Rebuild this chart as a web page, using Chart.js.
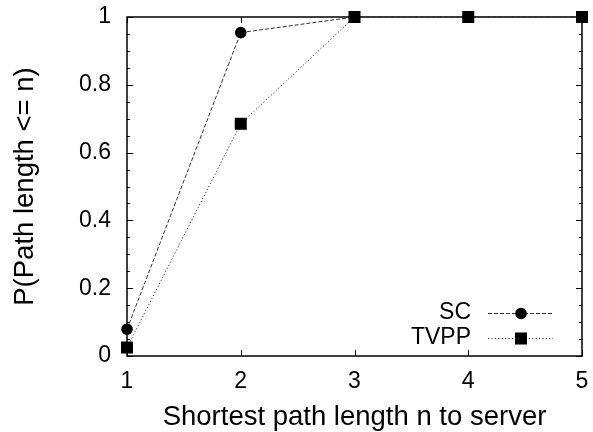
<!DOCTYPE html>
<html>
<head>
<meta charset="utf-8">
<style>
  html, body { margin: 0; padding: 0; background: #fff; }
  canvas { display: block; }
</style>
<script src="https://cdn.jsdelivr.net/npm/chart.js@4/dist/chart.umd.min.js"></script>
</head>
<body>
<canvas id="chart" width="593" height="432"></canvas>
<script>
// Cumulative share of peers whose shortest path to the server is <= n
const pathLengths = [1, 2, 3, 4, 5];
const scValues = [0.079, 0.954, 1, 1, 1];
const tvppValues = [0.025, 0.685, 1, 1, 1];
const xTickValues = [1, 2, 3, 4, 5];
const yTickValues = [0, 0.2, 0.4, 0.6, 0.8, 1];
const yTickLabels = ['0', '0.2', '0.4', '0.6', '0.8', '1'];
const yMinorStep = 0.05;
const seriesNames = ['SC', 'TVPP'];

const FONT = '"Liberation Sans", Arial, Helvetica, sans-serif';

const toPoints = (vals) => pathLengths.map((x, i) => ({ x: x, y: vals[i] }));

// Keep the plot box fixed: no extra room reserved for overhanging labels
const noLabelPadding = (s) => {
  s.paddingTop = 0; s.paddingBottom = 0; s.paddingLeft = 0; s.paddingRight = 0;
};

// Closed frame with inward ticks on all four sides
const framePlugin = {
  id: 'frame',
  beforeDatasetsDraw(chart) {
    const { ctx, chartArea: a, scales: { x, y } } = chart;
    ctx.save();
    ctx.strokeStyle = '#000';
    ctx.lineWidth = 1;
    const steps = Math.round((y.max - y.min) / yMinorStep);
    for (let i = 0; i <= steps; i++) {
      const v = y.min + i * yMinorStep;
      const py = Math.round(y.getPixelForValue(v)) + 0.5;
      const major = yTickValues.some(t => Math.abs(t - v) < 1e-9);
      const len = major ? 6 : 3;
      ctx.beginPath();
      ctx.moveTo(a.left, py); ctx.lineTo(a.left + len, py);
      ctx.moveTo(a.right, py); ctx.lineTo(a.right - len, py);
      ctx.stroke();
    }
    xTickValues.forEach(v => {
      const px = Math.round(x.getPixelForValue(v)) + 0.5;
      ctx.beginPath();
      ctx.moveTo(px, a.bottom); ctx.lineTo(px, a.bottom - 6);
      ctx.moveTo(px, a.top); ctx.lineTo(px, a.top + 6);
      ctx.stroke();
    });
    ctx.lineWidth = 1.5;
    ctx.strokeRect(a.left, a.top, a.right - a.left, a.bottom - a.top);
    ctx.restore();
  }
};

// Key in the lower right: label, then a line sample with its marker
const keyPlugin = {
  id: 'key',
  afterDatasetsDraw(chart) {
    const { ctx } = chart;
    const rows = [313, 338];
    ctx.save();
    chart.data.datasets.forEach((ds, i) => {
      const yy = rows[i];
      ctx.font = '23px ' + FONT;
      ctx.fillStyle = '#000';
      ctx.textAlign = 'right';
      ctx.textBaseline = 'middle';
      ctx.fillText(ds.label, 471, yy);
      ctx.strokeStyle = ds.borderColor;
      ctx.lineWidth = ds.borderWidth;
      ctx.setLineDash(ds.borderDash);
      ctx.beginPath();
      ctx.moveTo(488, yy + 0.5); ctx.lineTo(553, yy + 0.5);
      ctx.stroke();
      ctx.setLineDash([]);
      ctx.fillStyle = ds.pointBackgroundColor;
      ctx.strokeStyle = ds.pointBorderColor;
      Chart.helpers.drawPoint(ctx, {
        pointStyle: ds.pointStyle, radius: ds.pointRadius, rotation: 0, borderWidth: 0
      }, 521, yy + 0.5);
    });
    ctx.restore();
  }
};

new Chart(document.getElementById('chart'), {
  type: 'scatter',
  data: {
    datasets: [
      {
        label: seriesNames[0],
        data: toPoints(scValues),
        showLine: true,
        clip: false,
        borderColor: '#333',
        borderWidth: 1,
        borderDash: [4, 2],
        pointStyle: 'circle',
        pointRadius: 5.8,
        pointBackgroundColor: '#000',
        pointBorderColor: '#000',
        pointBorderWidth: 0,
        order: 1
      },
      {
        label: seriesNames[1],
        data: toPoints(tvppValues),
        showLine: true,
        clip: false,
        borderColor: '#333',
        borderWidth: 1,
        borderDash: [1.2, 2.2],
        pointStyle: 'rect',
        pointRadius: 8.5,
        pointBackgroundColor: '#000',
        pointBorderColor: '#000',
        pointBorderWidth: 0,
        order: 0
      }
    ]
  },
  options: {
    responsive: false,
    animation: false,
    devicePixelRatio: 1,
    layout: { padding: { top: 17, right: 11, left: 0, bottom: 0 } },
    plugins: { legend: { display: false }, tooltip: { enabled: false } },
    scales: {
      x: {
        type: 'linear',
        min: 1, max: 5,
        afterBuildTicks: (s) => { s.ticks = xTickValues.map(v => ({ value: v })); },
        afterFit: (s) => { s.height = 76; noLabelPadding(s); },
        grid: { display: false, drawTicks: false },
        border: { display: false },
        ticks: {
          color: '#000', padding: 12,
          font: { family: FONT, size: 23 },
          maxRotation: 0, autoSkip: false,
          callback: (v) => String(v)
        },
        title: {
          display: true,
          text: 'Shortest path length n to server',
          color: '#000',
          font: { family: FONT, size: 27.5, lineHeight: 1 },
          padding: { top: 0, bottom: 1.25 }
        }
      },
      y: {
        type: 'linear',
        min: 0, max: 1,
        afterBuildTicks: (s) => { s.ticks = yTickValues.map(v => ({ value: v })); },
        afterFit: (s) => { s.width = 127; noLabelPadding(s); },
        grid: { display: false, drawTicks: false },
        border: { display: false },
        ticks: {
          color: '#000', padding: 16,
          font: { family: FONT, size: 23 },
          autoSkip: false,
          callback: (v) => yTickLabels[yTickValues.findIndex(t => Math.abs(t - v) < 1e-9)]
        },
        title: {
          display: true,
          text: 'P(Path length <= n)',
          color: '#000',
          font: { family: FONT, size: 27.5, lineHeight: 1 },
          padding: { top: 11.75, bottom: 0 }
        }
      }
    }
  },
  plugins: [framePlugin, keyPlugin]
});
</script>
</body>
</html>
